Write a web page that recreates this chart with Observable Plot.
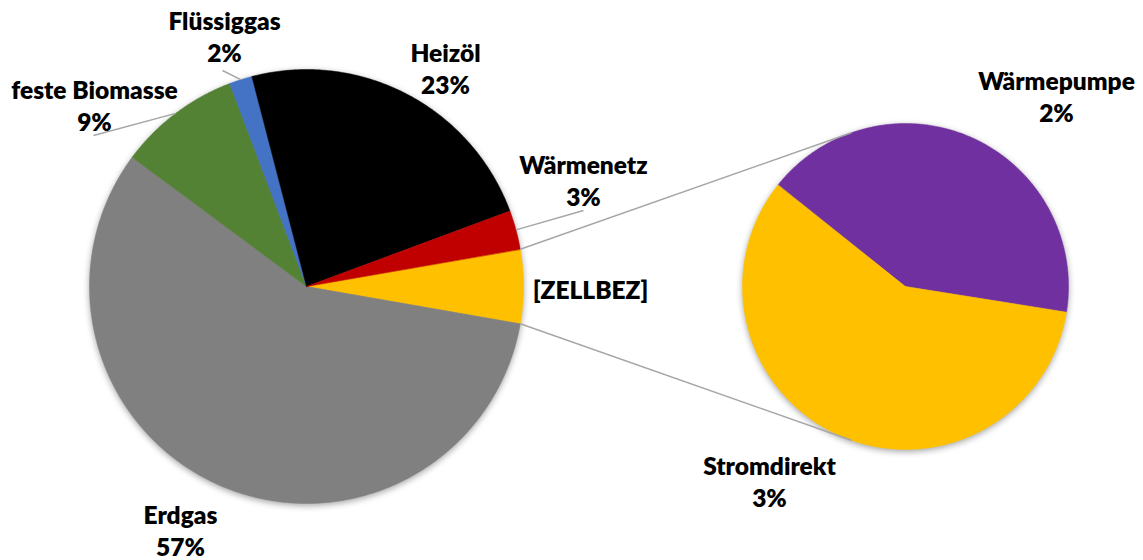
<!DOCTYPE html>
<html><head><meta charset="utf-8">
<script src="https://cdn.jsdelivr.net/npm/d3@7"></script>
<script src="https://cdn.jsdelivr.net/npm/@observablehq/plot@0.6"></script>
<style>
html,body{margin:0;padding:0;background:#fff;}
#chart svg{display:block;}
.pie{filter:drop-shadow(0px 2px 3px rgba(0,0,0,0.35));}
</style></head><body><div id="chart"></div>
<script>
// ---- data ----
const mainCategories = ["Erdgas", "feste Biomasse", "Flüssiggas", "Heizöl", "Wärmenetz"];
const mainValues = [57.4, 9.1, 1.7, 23.4, 2.9];
const mainColors = ["#808080", "#548235", "#4472C4", "#000000", "#C00000"];
const otherLabel = "[ZELLBEZ]";
const otherColor = "#FFC000";
const secondCategories = ["Wärmepumpe", "Stromdirekt"];
const secondValues = [2.3, 3.2];
const secondColors = ["#7030A0", "#FFC000"];

// ---- layout ----
const W = 1143, H = 560;
const main = {cx: 306, cy: 286, r: 217};
const sec = {cx: 905, cy: 286, r: 163, start: -51.5 * Math.PI / 180};
const labelPos = {
  "Erdgas": [180, 529], "feste Biomasse": [94, 104], "Flüssiggas": [224, 35],
  "Heizöl": [445, 67], "Wärmenetz": [583, 179], "[ZELLBEZ]": [590, 288],
  "Wärmepumpe": [1056, 95], "Stromdirekt": [769, 480]
};
const leaderEnds = {"Flüssiggas": [222, 70], "feste Biomasse": [93, 135], "Wärmenetz": [583, 210]};

// ---- geometry ----
const otherValue = d3.sum(secondValues);
const mainData = [{name: otherLabel, value: otherValue, color: otherColor, other: true}]
  .concat(mainCategories.map((c, i) => ({name: c, value: mainValues[i], color: mainColors[i]})));
const total = d3.sum(mainData, d => d.value);
const otherAngle = 2 * Math.PI * otherValue / total;
const mStart = Math.PI / 2 - otherAngle / 2;
const mainArcs = d3.pie().sort(null).value(d => d.value).startAngle(mStart).endAngle(mStart + 2 * Math.PI)(mainData);
const secData = secondCategories.map((c, i) => ({name: c, value: secondValues[i], color: secondColors[i]}));
const secArcs = d3.pie().sort(null).value(d => d.value).startAngle(sec.start).endAngle(sec.start + 2 * Math.PI)(secData);

function polar(p, a, r) { return [p.cx + r * Math.sin(a), p.cy - r * Math.cos(a)]; }
function slicePoints(key, color, p, a0, a1) {
  const pts = [{key, color, x: p.cx, y: p.cy}];
  const n = Math.max(2, Math.ceil((a1 - a0) / (Math.PI / 360)));
  for (let i = 0; i <= n; i++) {
    const [x, y] = polar(p, a0 + (a1 - a0) * i / n, p.r);
    pts.push({key, color, x, y});
  }
  return pts;
}
const slices = [];
mainArcs.forEach(a => slices.push(...slicePoints("m-" + a.data.name, a.data.color, main, a.startAngle, a.endAngle)));
secArcs.forEach(a => slices.push(...slicePoints("s-" + a.data.name, a.data.color, sec, a.startAngle, a.endAngle)));

// connector lines: from the "other" slice corners tangent to the second pie
const oArc = mainArcs[0];
function tangent(P, sign) {
  const dx = P[0] - sec.cx, dy = P[1] - sec.cy;
  const d = Math.hypot(dx, dy);
  const al = Math.acos(sec.r / d);
  const base = Math.atan2(dy, dx) + sign * al;
  return [sec.cx + sec.r * Math.cos(base), sec.cy + sec.r * Math.sin(base)];
}
const cTop = polar(main, oArc.startAngle, main.r);
const cBot = polar(main, oArc.endAngle, main.r);
const tTop = tangent(cTop, 1), tBot = tangent(cBot, -1);
const connectors = [
  {x1: cTop[0], y1: cTop[1], x2: tTop[0], y2: tTop[1]},
  {x1: cBot[0], y1: cBot[1], x2: tBot[0], y2: tBot[1]}
];
// leader lines
const leaders = mainArcs.filter(a => leaderEnds[a.data.name]).map(a => {
  const [x1, y1] = polar(main, (a.startAngle + a.endAngle) / 2, main.r);
  const [x2, y2] = leaderEnds[a.data.name];
  return {x1, y1, x2, y2};
});
// labels
const labels = mainArcs.map(a => ({name: a.data.name, text: a.data.other ? a.data.name : a.data.name + "\n" + Math.round(a.data.value) + "%"}))
  .concat(secArcs.map(a => ({name: a.data.name, text: a.data.name + "\n" + Math.round(a.data.value) + "%"})))
  .map(d => ({...d, x: labelPos[d.name][0], y: labelPos[d.name][1]}));

const chart = Plot.plot({
  width: W, height: H,
  margin: 0,
  x: {domain: [0, W], range: [0, W], axis: null},
  y: {domain: [0, H], range: [0, H], axis: null},
  color: {type: "identity"},
  style: {background: "#fff"},
  marks: [
    Plot.line(slices, {x: "x", y: "y", z: "key", fill: "color", stroke: "color", strokeWidth: 0.5, curve: "linear-closed", className: "pie"}),
    Plot.link(connectors, {x1: "x1", y1: "y1", x2: "x2", y2: "y2", stroke: "#A6A6A6", strokeWidth: 1.5}),
    Plot.link(leaders, {x1: "x1", y1: "y1", x2: "x2", y2: "y2", stroke: "#A6A6A6", strokeWidth: 1.5}),
    Plot.text(labels, {x: "x", y: "y", text: "text", textAnchor: "middle", lineAnchor: "middle", lineHeight: 1.33,
      fontFamily: "Lato", fontWeight: 800, fontSize: 24.5, fill: "#000"})
  ]
});
document.getElementById("chart").appendChild(chart);
</script>
</body></html>
